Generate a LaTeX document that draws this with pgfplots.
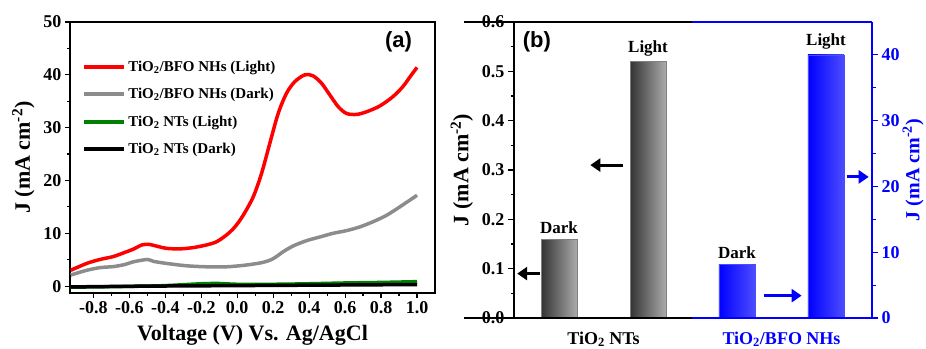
\documentclass[border=0pt]{standalone}
\usepackage{pgfplots}
\pgfplotsset{compat=1.18}
\usetikzlibrary{arrows.meta}
\usepackage{fontspec}
\setmainfont{Liberation Serif}
\newfontfamily\arialf{Liberation Sans}
\definecolor{cred}{RGB}{255,0,0}
\definecolor{cgray}{RGB}{140,140,140}
\definecolor{cgreen}{RGB}{0,128,0}
\definecolor{cblue}{RGB}{0,0,255}
\newcommand{\tk}{\bfseries\fontsize{18}{18}\selectfont}
\newcommand{\bl}{\bfseries\fontsize{17}{17}\selectfont}
\newcommand{\lb}{\bfseries\fontsize{22}{22}\selectfont}
\begin{document}
\begin{tikzpicture}
\useasboundingbox (0pt,0pt) rectangle (926pt,348pt);
% ---------------- panel (a)
\begin{axis}[at={(70pt,55pt)}, anchor=south west, scale only axis,
  width=365pt, height=271pt,
  xmin=-0.93, xmax=1.1, ymin=-1.3, ymax=50,
  xtick={-0.8,-0.6,-0.4,-0.2,0,0.2,0.4,0.6,0.8,1.0},
  ytick={0,10,20,30,40,50},
  minor x tick num=1, minor y tick num=1,
  tick align=outside, xtick pos=lower, ytick pos=left,
  major tick length=5pt, minor tick length=3pt,
  axis line style={line width=1.4pt},
  every tick/.style={black, line width=1.2pt},
  /pgf/number format/assume math mode=true,
  tick label style={font=\tk},
  xticklabel style={/pgf/number format/.cd, fixed, fixed zerofill, precision=1},
  xlabel={Voltage (V) Vs. Ag/AgCl}, ylabel={J (mA cm\textsuperscript{-2})},
  label style={font=\lb},
  xlabel style={yshift=-5pt},
  ylabel style={yshift=2pt},
  legend style={at={(0.025,0.872)}, anchor=north west, draw=none, fill=none,
    font=\bfseries\fontsize{15}{15}\selectfont, row sep=11.5pt},
  legend cell align=left,
  legend image code/.code={\draw[#1, line width=4pt] (0pt,0pt) -- (40pt,0pt);},
]
\addplot[cred, line width=3.5pt, smooth, tension=0.5] coordinates {
(-0.926,3.0) (-0.837,4.3) (-0.763,5.05) (-0.689,5.6) (-0.624,6.4) (-0.578,7.0)
(-0.53,7.8) (-0.49,7.9) (-0.44,7.5) (-0.393,7.15) (-0.319,7.05) (-0.244,7.3)
(-0.170,7.8) (-0.115,8.4) (-0.059,9.7) (-0.013,11.2) (0.033,13.4) (0.089,16.9)
(0.135,21.3) (0.181,27.0) (0.228,32.7) (0.274,36.5) (0.32,38.7) (0.376,40.0)
(0.422,39.8) (0.469,38.4) (0.515,36.2) (0.561,34.0) (0.607,32.7) (0.663,32.5)
(0.719,33.0) (0.793,34.1) (0.867,35.9) (0.922,37.8) (0.969,40.0) (1.0,41.4)};
\addlegendentry{TiO\textsubscript{2}/BFO NHs (Light)}
\addplot[cgray, line width=3.5pt, smooth, tension=0.5] coordinates {
(-0.926,2.1) (-0.837,3.0) (-0.763,3.5) (-0.689,3.7) (-0.624,4.1) (-0.578,4.6)
(-0.50,5.05) (-0.467,4.7) (-0.393,4.3) (-0.281,3.85) (-0.170,3.66) (-0.059,3.66)
(0.052,4.0) (0.144,4.5) (0.2,5.2) (0.255,6.5) (0.311,7.6) (0.385,8.6)
(0.459,9.3) (0.533,10.0) (0.607,10.5) (0.681,11.2) (0.756,12.2) (0.830,13.4)
(0.904,15.0) (1.0,17.2)};
\addlegendentry{TiO\textsubscript{2}/BFO NHs (Dark)}
\addplot[cgreen, line width=3.5pt, smooth, tension=0.5] coordinates {
(-0.926,-0.2) (-0.6,-0.05) (-0.4,0.1) (-0.2,0.45) (-0.1,0.5) (0,0.35)
(0.2,0.35) (0.4,0.45) (0.6,0.6) (0.8,0.7) (1.0,0.85)};
\addlegendentry{TiO\textsubscript{2} NTs (Light)}
\addplot[black, line width=3.5pt, smooth, tension=0.5] coordinates {
(-0.926,-0.15) (-0.5,0.0) (0,0.1) (0.5,0.2) (1.0,0.3)};
\addlegendentry{TiO\textsubscript{2} NTs (Dark)}
\node[font=\arialf\bfseries\fontsize{22}{22}\selectfont] at (rel axis cs:0.9,0.926) {(a)};
\end{axis}
% ---------------- panel (b) left axis
\begin{axis}[at={(514pt,30pt)}, anchor=south west, scale only axis,
  width=358pt, height=296pt,
  xmin=0.494, xmax=4.517, ymin=0, ymax=0.6,
  axis x line=none, axis y line*=left,
  ytick={0,0.1,0.2,0.3,0.4,0.5,0.6}, minor y tick num=1,
  tick align=outside,
  major tick length=6pt, minor tick length=3.5pt,
  axis line style={line width=1.4pt, -},
  every tick/.style={black, line width=1.2pt},
  /pgf/number format/assume math mode=true,
  tick label style={font=\tk},
  yticklabel style={/pgf/number format/.cd, fixed, fixed zerofill, precision=1},
  ylabel={J (mA cm\textsuperscript{-2})}, label style={font=\lb},
  ylabel style={yshift=2pt},
  clip=false,
]
\addplot[ybar, bar width=0.405, bar shift=0pt, draw=gray, line width=0.6pt,
  left color=black!80, right color=black!33] coordinates {(1,0.16)};
\addplot[ybar, bar width=0.405, bar shift=0pt, draw=gray, line width=0.6pt,
  left color=black!80, right color=black!33] coordinates {(2,0.52)};
\node[anchor=south, font=\bl, yshift=2pt] at (axis cs:1,0.16) {Dark};
\node[anchor=south, font=\bl, yshift=2pt] at (axis cs:2,0.52) {Light};
\draw[black, line width=3pt, -{Triangle[length=10pt,width=13pt]}] (axis cs:0.79,0.09) -- (axis cs:0.53,0.09);
\draw[black, line width=3pt, -{Triangle[length=10pt,width=13pt]}] (axis cs:1.724,0.31) -- (axis cs:1.352,0.31);
\node[font=\arialf\bfseries\fontsize{22}{22}\selectfont] at (rel axis cs:0.064,0.932) {(b)};
\node[anchor=north, font=\tk, yshift=-10pt] at (axis cs:1.5,0) {TiO\textsubscript{2} NTs};
\node[anchor=north, font=\tk, yshift=-10pt, text=cblue] at (axis cs:3.5,0) {TiO\textsubscript{2}/BFO NHs};
\end{axis}
% ---------------- panel (b) right axis
\begin{axis}[at={(514pt,30pt)}, anchor=south west, scale only axis,
  width=358pt, height=296pt,
  xmin=0.494, xmax=4.517, ymin=0, ymax=45,
  axis x line=none, axis y line*=right,
  ytick={0,10,20,30,40}, minor y tick num=1,
  tick align=outside,
  major tick length=6pt, minor tick length=3.5pt,
  axis line style={line width=1.4pt, -, cblue},
  every tick/.style={cblue, line width=1.2pt},
  /pgf/number format/assume math mode=true,
  tick label style={font=\tk, text=cblue},
  ylabel={J (mA cm\textsuperscript{-2})},
  every axis y label/.style={at={(rel axis cs:1,0.5)}, rotate=90, anchor=center,
    yshift=-41pt, font=\bfseries\fontsize{20}{20}\selectfont, text=cblue},
  clip=false,
]
\addplot[ybar, bar width=0.405, bar shift=0pt, draw=cblue!70, line width=0.6pt,
  left color=cblue, right color=cblue!70!white] coordinates {(3,8.2)};
\addplot[ybar, bar width=0.405, bar shift=0pt, draw=cblue!70, line width=0.6pt,
  left color=cblue, right color=cblue!70!white] coordinates {(4,40.0)};
\node[anchor=south, font=\bl, yshift=2pt] at (axis cs:3,8.2) {Dark};
\node[anchor=south, font=\bl, yshift=2pt] at (axis cs:4,40.0) {Light};
\draw[cblue, line width=3pt, -{Triangle[length=10pt,width=13pt]}] (axis cs:3.298,3.4) -- (axis cs:3.726,3.4);
\draw[cblue, line width=3pt, -{Triangle[length=10pt,width=13pt]}] (axis cs:4.232,21.45) -- (axis cs:4.48,21.45);
\draw[black, line width=1.4pt] (rel axis cs:0,1) ++(-6pt,0) -- (rel axis cs:0.497,1);
\draw[cblue, line width=1.4pt] (rel axis cs:0.497,1) -- (rel axis cs:1,1);
\draw[black, line width=1.4pt] (rel axis cs:0,0) ++(-6pt,0) -- (rel axis cs:0.497,0);
\draw[cblue, line width=1.4pt] (rel axis cs:0.497,0) -- (rel axis cs:1,0);
\end{axis}
\end{tikzpicture}
\end{document}
